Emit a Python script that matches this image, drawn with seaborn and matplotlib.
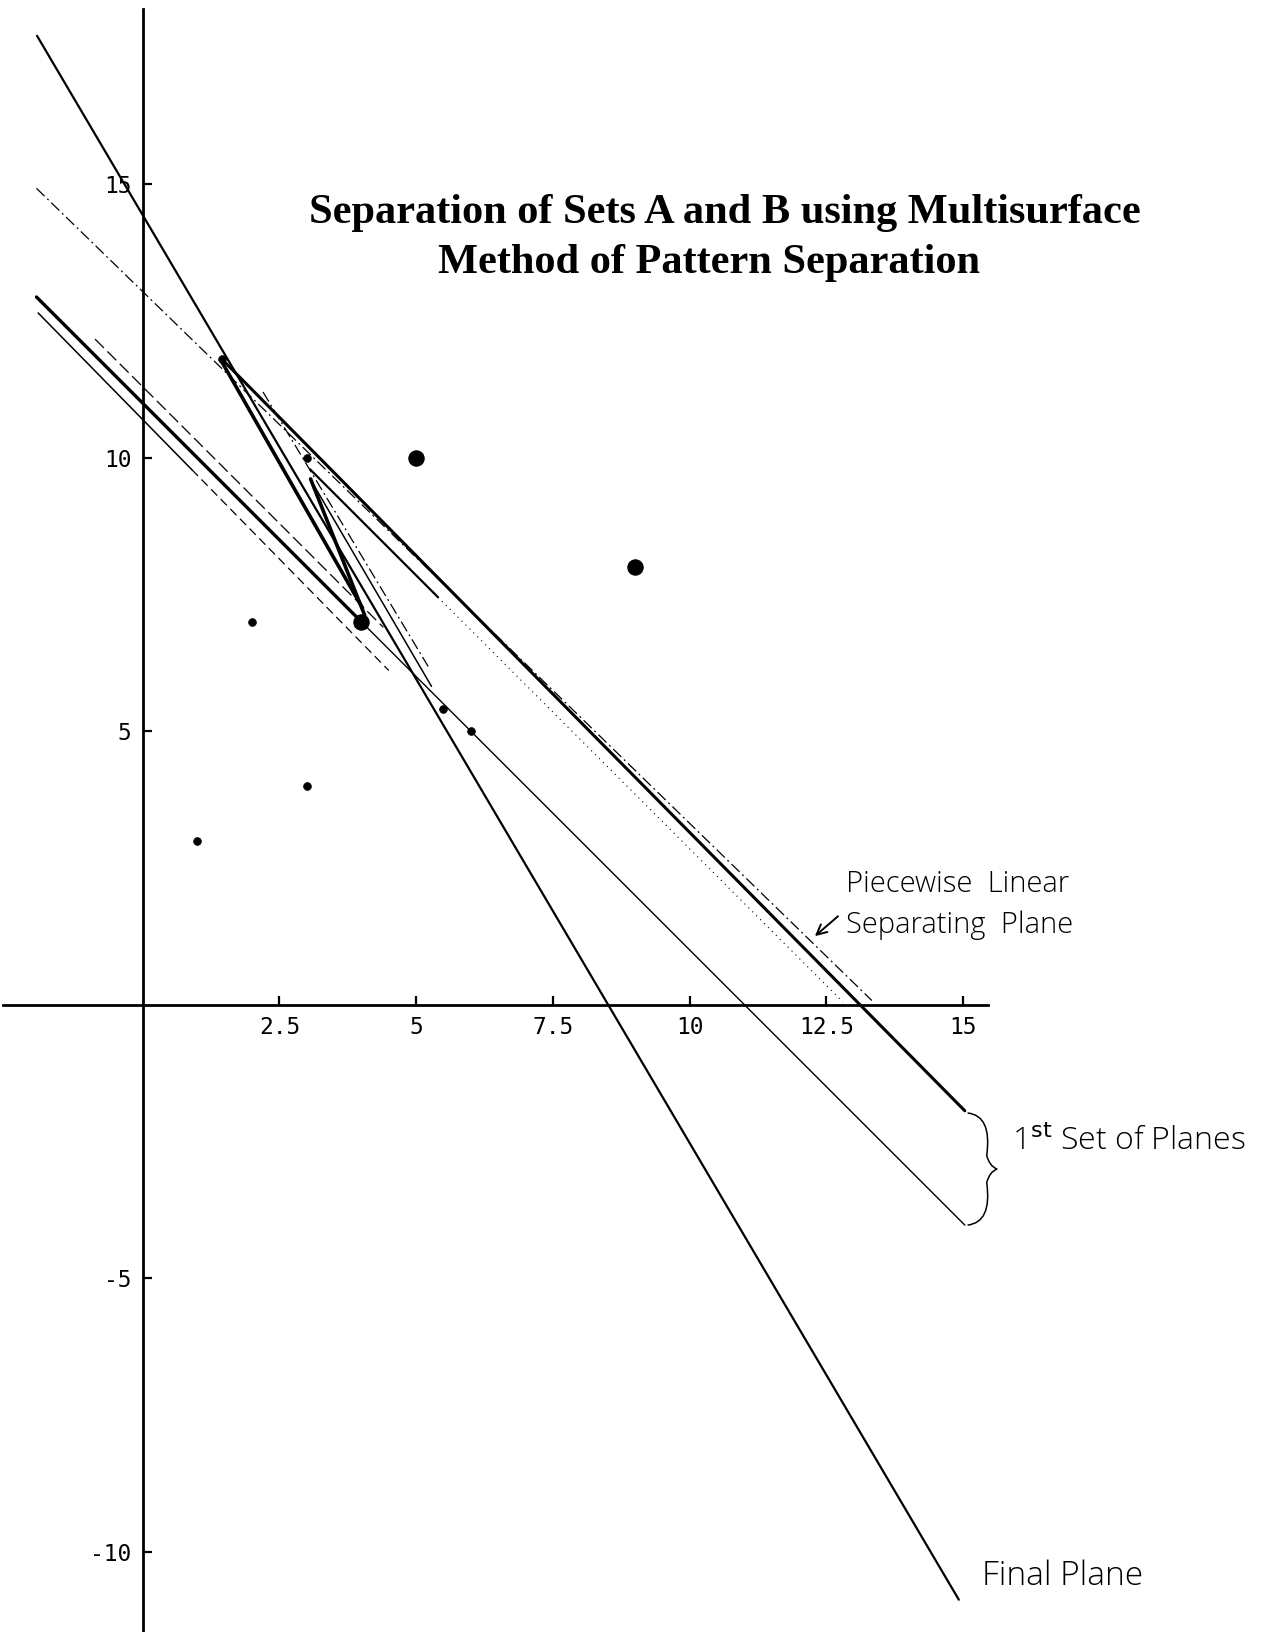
import numpy as np
import pandas as pd
import matplotlib
matplotlib.use("Agg")
import matplotlib.pyplot as plt
from matplotlib.ticker import FixedLocator
from matplotlib.path import Path
from matplotlib.patches import PathPatch
import seaborn as sns

# ---- data ----
# planes written as y = intercept + slope * x, drawn between x_start and x_end
plane_names = ["final", "wedge_left", "wedge_right", "steep_thin", "steep_dashdot",
               "upper_dashdot", "upper_thick", "upper_dotted_a", "upper_dotted_b",
               "lower_thick", "lower_thin", "lower_solid", "lower_dashed", "lower_dashdot"]
plane_slope = [-1.697, -1.751, -2.52, -1.71, -1.662,
               -0.9725, -1.012, -1.0, -1.0,
               -1.0, -1.0, -1.02, -1.02, -1.0]
plane_intercept = [14.44, 14.29, 17.35, 14.85, 14.86,
                   13.04, 13.27, 12.85, 12.85,
                   11.0, 11.0, 10.7, 10.7, 11.3]
plane_x_start = [-1.93, 1.45, 3.07, 3.10, 2.2,
                 -1.94, 1.45, 3.06, 5.4,
                 -1.94, 4.02, -1.91, 0.9, -0.87]
plane_x_end = [14.92, 4.02, 4.06, 5.28, 5.22,
               13.33, 15.03, 5.4, 12.8,
               4.02, 15.03, 0.9, 4.5, 4.4]

# points of the two sets
big_x = [5, 9, 4]
big_y = [10, 8, 7]
small_x = [1, 3, 2, 6, 5.5, 3, 1.45]
small_y = [3, 4, 7, 5, 5.4, 10, 11.8]

x_tick_values = [2.5, 5, 7.5, 10, 12.5, 15]
x_tick_labels = ["2.5", "5", "7.5", "10", "12.5", "15"]
y_tick_values = [-10, -5, 5, 10, 15]
y_tick_labels = ["-10", "-5", "5", "10", "15"]

title_lines = ["Separation of Sets A and B using Multisurface",
               "Method of Pattern Separation"]

# ---- styles for each plane (same order as the data above) ----
dashdot = (0, (9, 3, 1.5, 3))
plane_style = [
    dict(lw=1.6, ls="-"),
    dict(lw=2.6, ls="-"),
    dict(lw=2.6, ls="-"),
    dict(lw=1.1, ls="-"),
    dict(lw=0.9, ls=dashdot),
    dict(lw=0.9, ls=dashdot),
    dict(lw=2.2, ls="-"),
    dict(lw=1.6, ls="-"),
    dict(lw=0.8, ls=(0, (1, 4))),
    dict(lw=2.4, ls="-"),
    dict(lw=1.0, ls="-"),
    dict(lw=1.1, ls="-"),
    dict(lw=0.9, ls=(0, (7, 4))),
    dict(lw=0.9, ls=(0, (10, 4))),
]

sns.set_theme(style="white")
plt.rcParams["axes.unicode_minus"] = False
plt.rcParams["font.family"] = ["DejaVu Sans"]

fig = plt.figure(figsize=(12.69, 16.32), dpi=100)
ax = fig.add_axes([0, 0, 1, 1])
ax.set_xlim(-2.607, 20.59)
ax.set_ylim(-11.47, 18.37)

for i in range(len(plane_names)):
    xs = np.array([plane_x_start[i], plane_x_end[i]])
    ys = plane_intercept[i] + plane_slope[i] * xs
    st = plane_style[i]
    sns.lineplot(x=xs, y=ys, ax=ax, color="black", linewidth=st["lw"],
                 linestyle=st["ls"], estimator=None, sort=False, legend=False)

sns.scatterplot(x=big_x, y=big_y, ax=ax, s=120, color="black", edgecolor="black",
                legend=False, zorder=5)
sns.scatterplot(x=small_x, y=small_y, ax=ax, s=32, color="black", edgecolor="black",
                legend=False, zorder=5)

# axes through the origin, Mathematica style
for side in ["top", "right"]:
    ax.spines[side].set_visible(False)
ax.spines["left"].set_position(("data", 0))
ax.spines["bottom"].set_position(("data", 0))
for side in ["left", "bottom"]:
    ax.spines[side].set_linewidth(2.0)
    ax.spines[side].set_color("black")
ax.spines["bottom"].set_bounds(-2.55, 15.45)
ax.spines["left"].set_bounds(-11.47, 18.2)

ax.xaxis.set_major_locator(FixedLocator(x_tick_values))
ax.set_xticklabels(x_tick_labels)
ax.xaxis.set_minor_locator(FixedLocator(
    [v * 0.5 for v in range(-5, 31) if (v * 0.5) not in x_tick_values and v != 0]))
ax.yaxis.set_major_locator(FixedLocator(y_tick_values))
ax.set_yticklabels(y_tick_labels)
ax.yaxis.set_minor_locator(FixedLocator([v for v in range(-11, 19) if v % 5 != 0]))
ax.tick_params(which="major", direction="in", length=6.5, width=1.6, colors="black",
               labelcolor="black", labelsize=16.5, pad=8)
ax.tick_params(which="minor", direction="in", length=4.5, width=1.4, colors="black")
ax.tick_params(axis="x", bottom=True, top=False)
ax.tick_params(axis="y", left=True, right=False)
for lab in ax.get_xticklabels() + ax.get_yticklabels():
    lab.set_family("DejaVu Sans Mono")

# title
ax.text(0.5715, 1 - 213 / 1632, title_lines[0], transform=ax.transAxes, ha="center",
        va="center", fontsize=30.5, fontweight="bold", family="Liberation Serif",
        color="black")
ax.text(0.5585, 1 - 263 / 1632, title_lines[1], transform=ax.transAxes, ha="center",
        va="center", fontsize=30.5, fontweight="bold", family="Liberation Serif",
        color="black")

# handwritten notes
hand = dict(family="Open Sans", fontweight="light", color="black")
ax.text(12.85, 2.2, "Piecewise  Linear", fontsize=21, ha="left", va="center", **hand)
ax.text(12.85, 1.45, "Separating  Plane", fontsize=21, ha="left", va="center", **hand)
ax.annotate("", xy=(12.25, 1.22), xytext=(12.75, 1.65),
            arrowprops=dict(arrowstyle="->", lw=1.4, color="black",
                            mutation_scale=18))
ax.text(15.9, -2.5, "1$^{\\rm st}$ Set of Planes", fontsize=23, ha="left",
        va="center", **hand)
ax.text(15.35, -10.45, "Final Plane", fontsize=24, ha="left", va="center", **hand)

# curly brace joining the ends of the first set of planes
y_top, y_bot, x_in, x_out = -1.98, -4.03, 15.08, 15.62
y_mid = (y_top + y_bot) / 2
verts = [(x_in, y_top), (x_in + 0.45, y_top - 0.05), (x_in + 0.35, y_mid + 0.25),
         (x_in + 0.4, y_mid + 0.05), (x_out, y_mid),
         (x_in + 0.4, y_mid - 0.05), (x_in + 0.35, y_mid - 0.25),
         (x_in + 0.45, y_bot + 0.05), (x_in, y_bot)]
codes = [Path.MOVETO] + [Path.CURVE3] * 8
ax.add_patch(PathPatch(Path(verts, codes), fill=False, lw=1.1, color="black"))

fig.savefig("out.png", dpi=100, facecolor="white")
